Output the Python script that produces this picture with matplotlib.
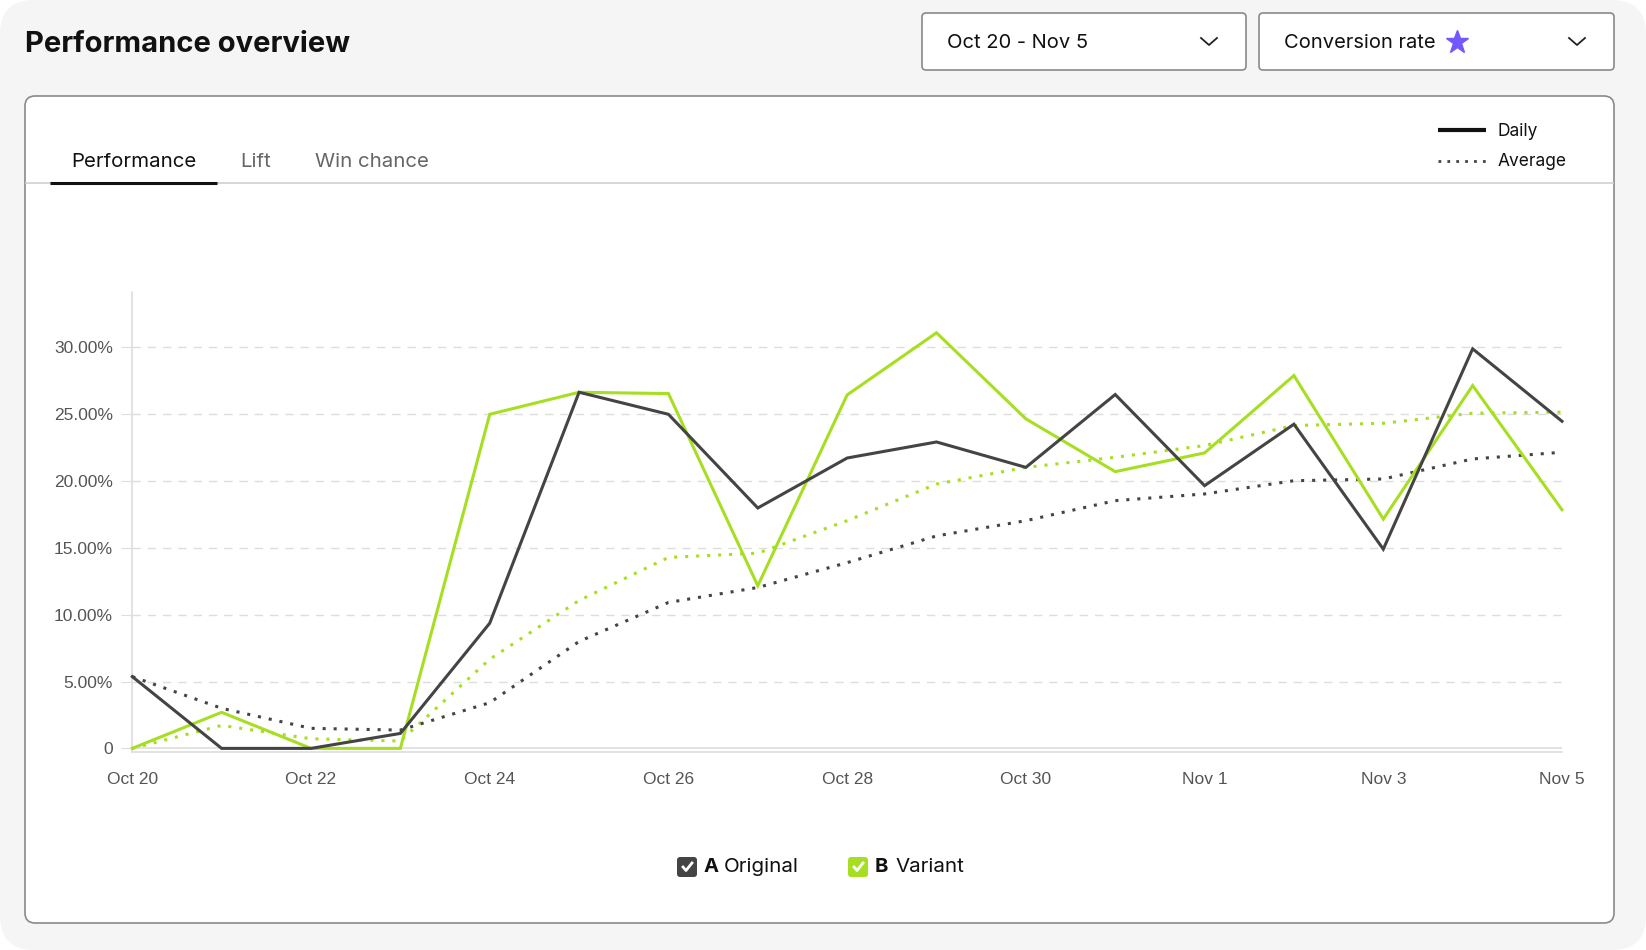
import numpy as np
import matplotlib
matplotlib.use("Agg")
import matplotlib.pyplot as plt
from matplotlib.patches import FancyBboxPatch

# data (conversion rate, %)
days = ["Oct 20", "Oct 21", "Oct 22", "Oct 23", "Oct 24", "Oct 25", "Oct 26", "Oct 27",
        "Oct 28", "Oct 29", "Oct 30", "Oct 31", "Nov 1", "Nov 2", "Nov 3", "Nov 4", "Nov 5"]
a_daily = [5.37, 0.0, 0.0, 1.12, 9.37, 26.65, 25.0, 17.99, 21.73, 22.93, 21.03, 26.48,
           19.66, 24.26, 14.91, 29.9, 24.48]
b_daily = [0.0, 2.70, 0.0, 0.0, 25.0, 26.65, 26.55, 12.17, 26.45, 31.1, 24.66, 20.71,
           22.11, 27.9, 17.16, 27.15, 17.86]
a_avg = [5.37, 3.0, 1.5, 1.37, 3.42, 8.0, 10.92, 12.04, 13.9, 15.9, 17.04, 18.54,
         19.04, 20.03, 20.16, 21.66, 22.16]
b_avg = [0.0, 1.72, 0.72, 0.55, 6.67, 11.07, 14.29, 14.61, 17.04, 19.78, 21.03, 21.78,
         22.66, 24.16, 24.33, 25.08, 25.16]
y_ticks = [0, 5, 10, 15, 20, 25, 30]
y_labels = ["0", "5.00%", "10.00%", "15.00%", "20.00%", "25.00%", "30.00%"]

DARK = "#444444"
GREEN = "#a6df22"
UI = "Inter"
TICK = "Liberation Sans"

W, H = 1646, 950
fig = plt.figure(figsize=(W / 100, H / 100), dpi=100, facecolor="white")

# background / UI layer in pixel coords
bg = fig.add_axes([0, 0, 1, 1])
bg.set_xlim(0, W)
bg.set_ylim(H, 0)
bg.axis("off")
bg.add_patch(FancyBboxPatch((0, 0), W, H, boxstyle="round,pad=0,rounding_size=34",
                            fc="#f5f5f5", ec="none"))
bg.add_patch(FancyBboxPatch((25, 96), 1589, 827, boxstyle="round,pad=0,rounding_size=10",
                            fc="white", ec="#8a8a8a", lw=1.2))
bg.text(25, 44, "Performance overview", fontsize=21, fontweight="bold", family=UI,
        color="#111111", va="center", ha="left")

# dropdowns
for x0, x1 in [(922, 1246), (1259, 1614)]:
    bg.add_patch(FancyBboxPatch((x0, 13), x1 - x0, 57, boxstyle="round,pad=0,rounding_size=4",
                                fc="white", ec="#8a8a8a", lw=1.2))
bg.text(947, 43, "Oct 20 - Nov 5", fontsize=14.5, family=UI, color="#111111", va="center")
bg.text(1284, 43, "Conversion rate", fontsize=14.5, family=UI, color="#111111", va="center")
bg.plot([1457], [42], marker="*", ms=17, color="#7357ff", mec="#7357ff")
for cx in [1209, 1577]:
    bg.plot([cx - 8, cx, cx + 8], [38, 45, 38], color="#222222", lw=1.3)

# tabs
bg.text(71, 162, "Performance", fontsize=14.7, family=UI, color="#111111", va="center")
bg.text(240, 162, "Lift", fontsize=14.7, family=UI, color="#666666", va="center")
bg.text(315, 162, "Win chance", fontsize=14.7, family=UI, color="#666666", va="center")
bg.plot([26, 1613], [183, 183], color="#d0d0d0", lw=1.2)
bg.plot([50, 217], [183, 183], color="#111111", lw=2.2, solid_capstyle="butt")

# line-style legend
bg.plot([1438, 1486], [130, 130], color="#111111", lw=3, solid_capstyle="butt")
bg.plot([1438, 1486], [161, 161], color="#444444", lw=2, ls=(0, (1, 2.2)))
bg.text(1498, 132, "Daily", fontsize=12.5, family=UI, color="#111111", va="center")
bg.text(1498, 162, "Average", fontsize=12.5, family=UI, color="#111111", va="center")

# series legend with checkboxes
for bx, col, letter, name in [(677, DARK, "A", "Original"), (848, GREEN, "B", "Variant")]:
    bg.add_patch(FancyBboxPatch((bx, 857), 20, 20, boxstyle="round,pad=0,rounding_size=3",
                                fc=col, ec="none"))
    bg.plot([bx + 6, bx + 9, bx + 15], [867, 870.5, 863], color="white", lw=2)
    bg.text(bx + 27, 867, letter, fontsize=14.5, fontweight="bold", family=UI,
            color="#111111", va="center")
    bg.text(bx + 27 + 20, 867, name, fontsize=14.8, family=UI, color="#111111", va="center")

# chart
ax = fig.add_axes([132.3 / W, 1 - 752.4 / H, (1562 - 132.3) / W, (752.4 - 291.9) / H])
ax.set_facecolor("none")
x = np.arange(len(days))
ax.plot(x, b_avg, color=GREEN, lw=2.2, ls=(0, (1, 2.6)), clip_on=False, zorder=3)
ax.plot(x, a_avg, color=DARK, lw=2.2, ls=(0, (1, 2.6)), clip_on=False, zorder=3)
ax.plot(x, b_daily, color=GREEN, lw=2.2, clip_on=False, zorder=4, solid_joinstyle="miter")
ax.plot(x, a_daily, color=DARK, lw=2.2, clip_on=False, zorder=5, solid_joinstyle="miter")

ax.set_xlim(0, 16)
ax.set_ylim(-0.3, 34.16)
for v in y_ticks[1:]:
    ax.axhline(v, color="#dddddd", lw=1, ls=(0, (6, 5)), zorder=1)
ax.axhline(0, color="#dddddd", lw=1.2, zorder=1)
for s in ["top", "right"]:
    ax.spines[s].set_visible(False)
ax.spines["left"].set_color("#dddddd")
ax.spines["bottom"].set_color("#dddddd")
ax.spines["left"].set_linewidth(1.2)
ax.spines["bottom"].set_linewidth(1.2)
ax.set_yticks(y_ticks)
ax.set_yticklabels(y_labels)
ax.set_xticks(x[::2])
ax.set_xticklabels(days[::2])
ax.tick_params(axis="y", length=8, color="#dddddd", pad=6, labelsize=12.5, labelcolor="#555555")
ax.tick_params(axis="x", length=0, pad=14, labelsize=12.5, labelcolor="#555555")
for lbl in ax.get_xticklabels() + ax.get_yticklabels():
    lbl.set_family(TICK)

fig.savefig("out.png", dpi=100, facecolor="white")
